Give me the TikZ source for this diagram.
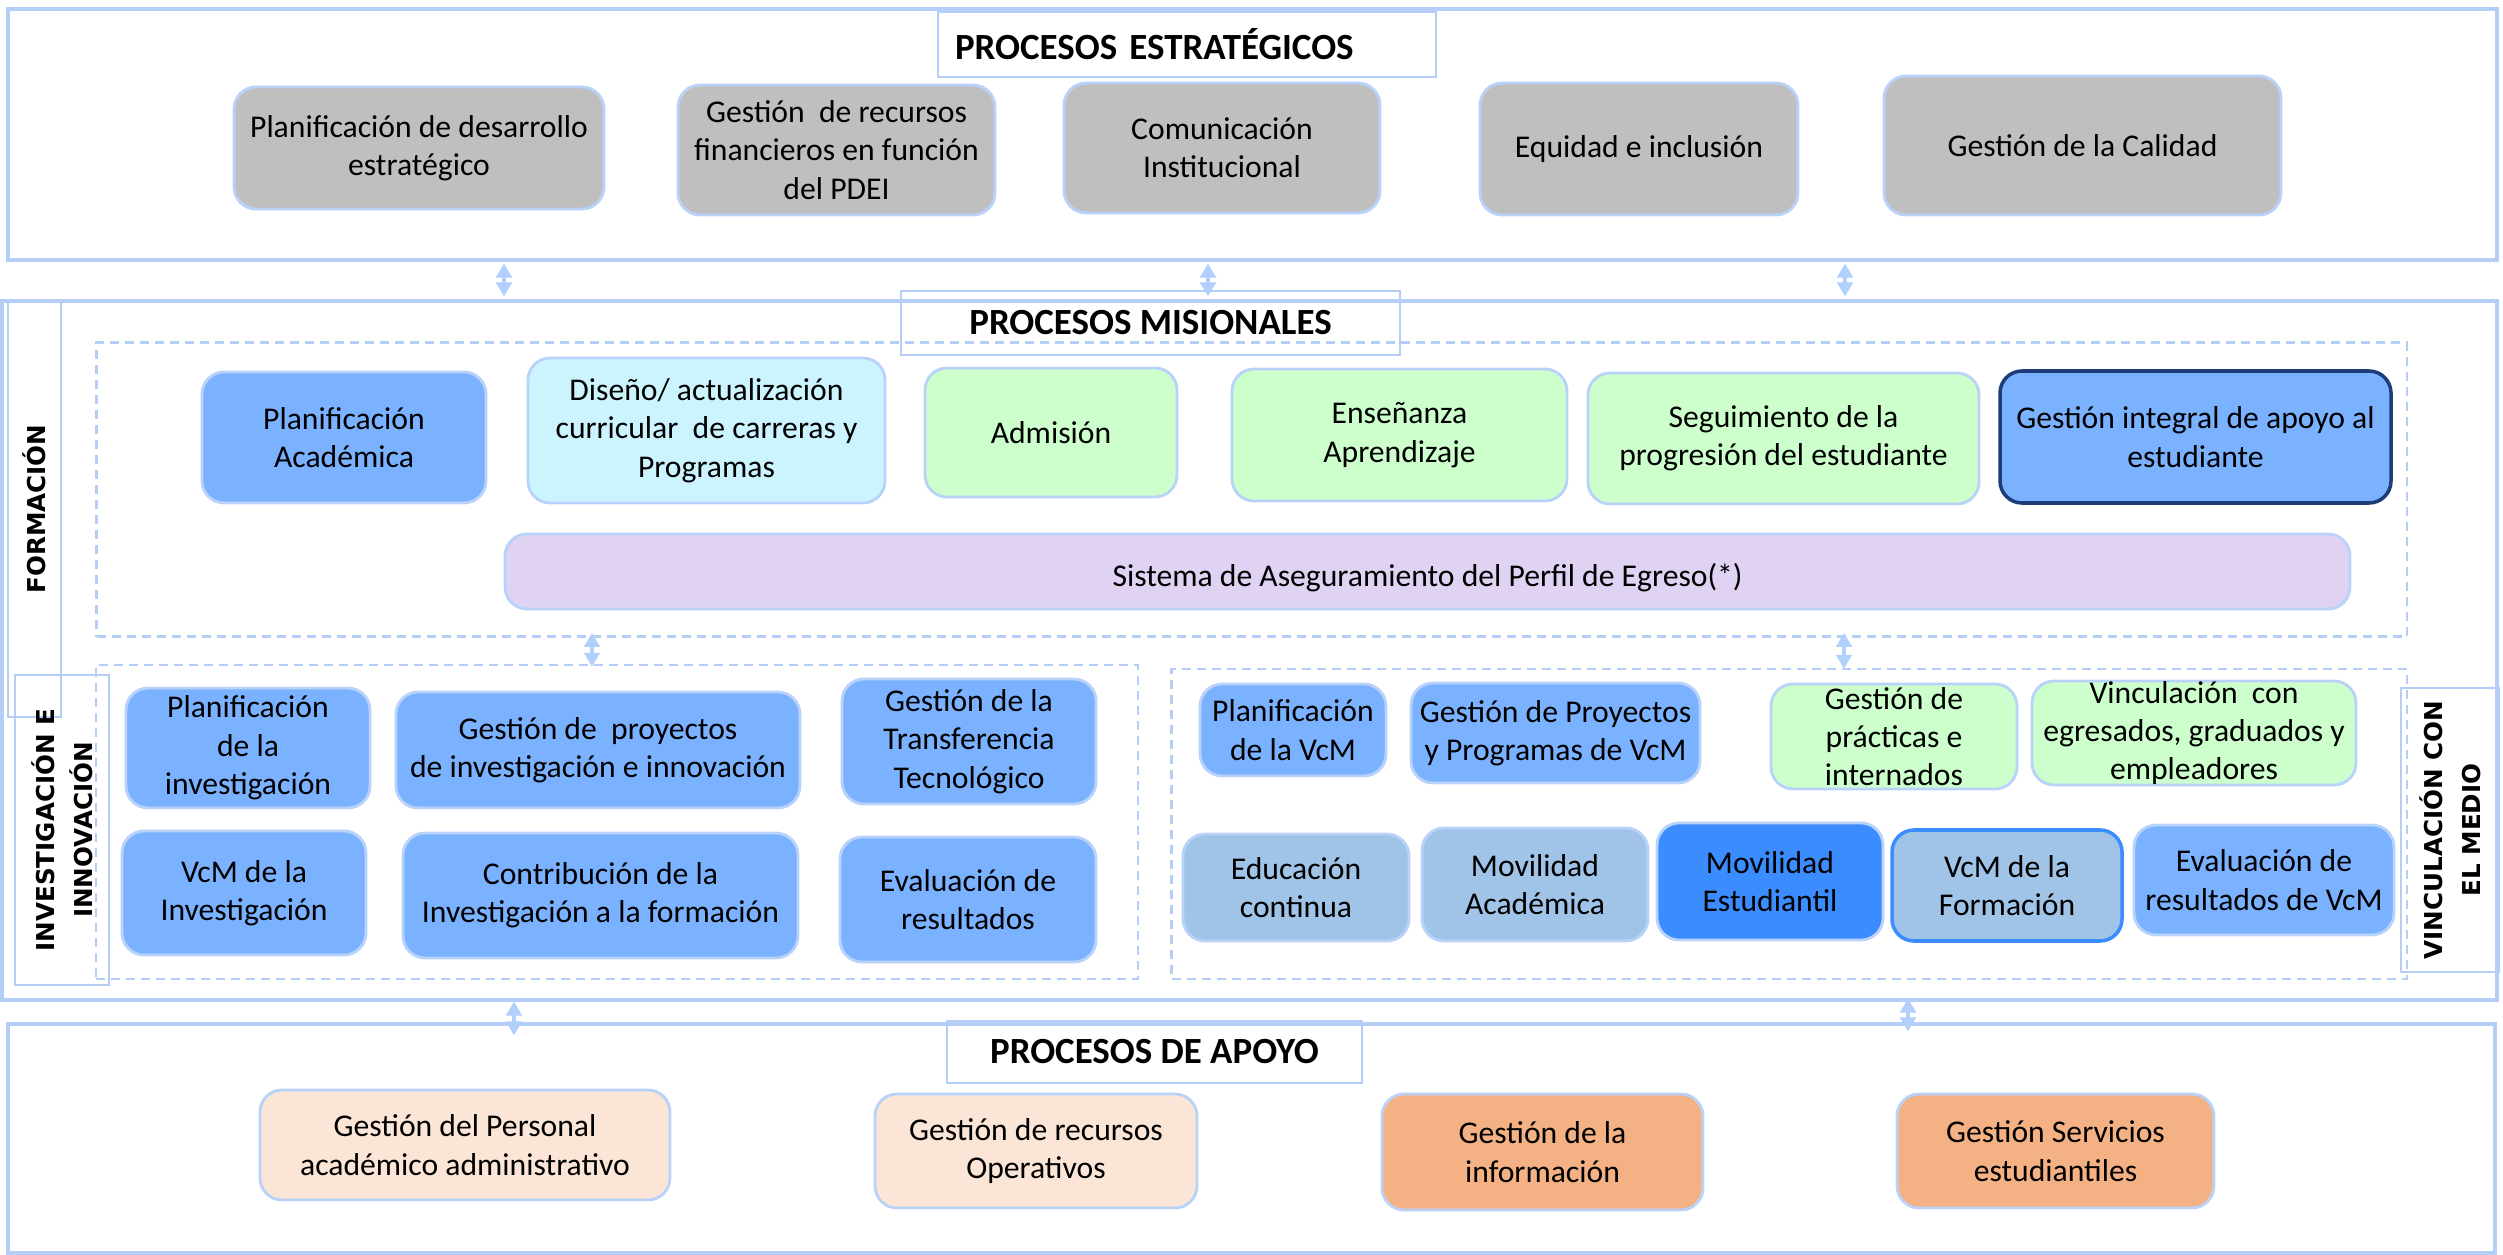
\documentclass[tikz,border=0pt]{standalone}
\usepackage{fontspec}
\setmainfont{Carlito}
\newfontfamily\sidefont{DejaVu Sans}
\usetikzlibrary{fit,arrows.meta}
\definecolor{lineblue}{RGB}{180,206,248}
\definecolor{boxline}{RGB}{185,210,250}
\definecolor{arrowblue}{RGB}{178,208,252}
\definecolor{graybox}{RGB}{191,191,191}
\definecolor{midblue}{RGB}{122,178,255}
\definecolor{cyanbox}{RGB}{204,244,255}
\definecolor{greenbox}{RGB}{204,255,204}
\definecolor{purplebox}{RGB}{224,210,242}
\definecolor{navyline}{RGB}{30,60,120}
\definecolor{steelbox}{RGB}{160,196,232}
\definecolor{brightblue}{RGB}{58,140,255}
\definecolor{peachbox}{RGB}{251,229,214}
\definecolor{orangebox}{RGB}{244,177,131}
\begin{document}
\begin{tikzpicture}[x=0.01cm,y=-0.01cm,
  every node/.style={font=\fontsize{9}{10.9}\selectfont},
  corners/.style n args={4}{at={({(#1+#3)/2},{(#2+#4)/2})}, minimum width={(#3-#1)*0.01cm}, minimum height={(#4-#2)*0.01cm}},
  outerbox/.style={draw=lineblue, line width=0.9pt, inner sep=0pt},
  dashbox/.style={draw=lineblue, line width=0.7pt, dash pattern=on 0.09cm off 0.06cm, inner sep=0pt},
  titlebox/.style={draw=lineblue, line width=0.6pt, inner sep=0pt, font=\fontsize{10.5}{12}\selectfont\bfseries},
  sidebox/.style={draw=lineblue, line width=0.6pt, inner sep=0pt, align=center, font=\sidefont\bfseries\fontsize{7}{10.9}\selectfont},
  pbox/.style={draw=boxline, line width=0.8pt, rounded corners=0.22cm, inner sep=0pt, align=center},
  graypb/.style={pbox, fill=graybox},
  bluepb/.style={pbox, fill=midblue},
  cyanpb/.style={pbox, fill=cyanbox},
  greenpb/.style={pbox, fill=greenbox},
  purplepb/.style={pbox, fill=purplebox},
  steelpb/.style={pbox, fill=steelbox},
  peachpb/.style={pbox, fill=peachbox},
  orangepb/.style={pbox, fill=orangebox},
  arr/.style={draw=arrowblue, line width=1.3pt, {Triangle[width=0.155cm,length=0.14cm]}-{Triangle[width=0.155cm,length=0.14cm]}}
]
\fill[white] (0,0) rectangle (2503,1255);
\useasboundingbox (0,0) rectangle (2503,1255);

% ---------- outer frames ----------
\node[outerbox, fit={(8,9)(2497,260)}] (strat) {};
\node[outerbox, fit={(2,301)(2497,1000)}] (mis) {};
\node[outerbox, fit={(8,1024)(2495,1253)}] (apo) {};

% ---------- titles ----------
\node[titlebox, anchor=west, minimum height=0.653cm, text width=4.64cm, inner xsep=0.17cm, align=left] (tstrat) at (937,44.5) {PROCESOS ESTRATÉGICOS};
\node[titlebox, corners={901}{291}{1400}{355}] (tmis) {PROCESOS MISIONALES};
\node[titlebox, corners={947}{1021}{1362}{1083}] (tapo) {PROCESOS DE APOYO};

% ---------- side labels ----------
\node[sidebox, rotate=90, minimum width=4.16cm, minimum height=0.53cm] (formlab) at (34.5,509) {FORMACIÓN};
\node[sidebox, rotate=90, minimum width=3.10cm, minimum height=0.94cm] (invlab) at (62,830) {INVESTIGACIÓN E\\INNOVACIÓN};
\node[sidebox, rotate=90, minimum width=2.84cm, minimum height=0.98cm] (vinlab) at (2450,830) {VINCULACIÓN CON\\EL MEDIO};

% ---------- dashed groups ----------
\node[dashbox, fit={(96.5,342.7)(2407,636.7)}] (form) {};
\node[dashbox, fit={(96,665)(1138,979)}] (inv) {};
\node[dashbox, fit={(1171.6,669)(2407,979)}] (vcm) {};

% ---------- strategic processes ----------
\node[graypb, corners={234}{87}{604}{209}] (s1) {Planificación de desarrollo\\estratégico};
\node[graypb, corners={678}{85}{995}{215}] (s2) {Gestión~ de recursos\\financieros en función\\del PDEI};
\node[graypb, corners={1064}{83}{1380}{213}] (s3) {Comunicación\\Institucional};
\node[graypb, corners={1480}{83}{1798}{215}] (s4) {Equidad e inclusión};
\node[graypb, corners={1884}{76}{2281}{215}] (s5) {Gestión de la Calidad};

% ---------- formación ----------
\node[bluepb, corners={202}{372}{486}{503}] (f1) {Planificación\\Académica};
\node[cyanpb, corners={528}{358}{885}{503}] (f2) {Diseño/ actualización\\curricular~ de carreras y\\Programas};
\node[greenpb, corners={925}{368}{1177}{497}] (f3) {Admisión};
\node[greenpb, corners={1232}{369}{1567}{501}] (f4) {Enseñanza\\Aprendizaje};
\node[greenpb, corners={1588}{373}{1979}{504}] (f5) {Seguimiento de la\\progresión del estudiante};
\node[bluepb, draw=navyline, line width=1pt, corners={2000}{371}{2391}{503}] (f6) {Gestión integral de apoyo al\\estudiante};
\node[purplepb, corners={505}{534}{2350}{609}] (f7) {\raisebox{-0.06cm}[\height][\depth]{Sistema de Aseguramiento del Perfil de Egreso(*)}};

% ---------- investigación ----------
\node[bluepb, corners={126}{688}{370}{808}] (i1) {Planificación\\de la\\investigación};
\node[bluepb, corners={396}{692}{800}{808}] (i2) {Gestión de~ proyectos\\de investigación e innovación};
\node[bluepb, corners={842}{679}{1096}{804}] (i3) {Gestión de la\\Transferencia\\Tecnológico};
\node[bluepb, corners={122}{831}{366}{955}] (i4) {VcM de la\\Investigación};
\node[bluepb, corners={403}{833}{798}{958}] (i5) {Contribución de la\\Investigación a la formación};
\node[bluepb, corners={840}{837}{1096}{962}] (i6) {Evaluación de\\resultados};

% ---------- vinculación ----------
\node[bluepb, corners={1200}{684}{1386}{776}] (v1) {Planificación\\de la VcM};
\node[bluepb, corners={1411}{683}{1700}{783}] (v2) {Gestión de Proyectos\\y Programas de VcM};
\node[greenpb, corners={1771}{684}{2017}{789}] (v3) {Gestión de\\prácticas e\\internados};
\node[greenpb, corners={2032}{681}{2356}{785}] (v4) {Vinculación~ con\\egresados, graduados y\\empleadores};
\node[steelpb, corners={1183}{834}{1409}{941}] (v5) {Educación\\continua};
\node[steelpb, corners={1422}{828}{1648}{941}] (v6) {Movilidad\\Académica};
\node[pbox, fill=brightblue, corners={1657}{823}{1883}{940}] (v7) {Movilidad\\Estudiantil};
\node[steelpb, draw=brightblue, line width=1pt, corners={1892}{830}{2122}{941}] (v8) {VcM de la\\Formación};
\node[bluepb, corners={2134}{825}{2394}{935}] (v9) {Evaluación de\\resultados de VcM};

% ---------- apoyo ----------
\node[peachpb, corners={260}{1090}{670}{1200}] (a1) {Gestión del Personal\\académico administrativo};
\node[peachpb, corners={875}{1094}{1197}{1208}] (a2) {Gestión de recursos\\Operativos};
\node[orangepb, corners={1382}{1094}{1703}{1210}] (a3) {Gestión de la\\información};
\node[orangepb, corners={1897}{1094}{2214}{1208}] (a4) {Gestión Servicios\\estudiantiles};

% ---------- connectors ----------
\draw[arr, shorten <=0.02cm, shorten >=0.03cm] (504,0 |- strat.south) -- (504,0 |- mis.north);
\draw[arr, shorten <=0.02cm, shorten >=0.03cm] (1208,0 |- strat.south) -- (1208,0 |- mis.north);
\draw[arr, shorten <=0.02cm, shorten >=0.03cm] (1845,0 |- strat.south) -- (1845,0 |- mis.north);
\draw[arr, shorten <=-0.05cm, shorten >=-0.03cm] (592,0 |- form.south) -- (592,0 |- inv.north);
\draw[arr, shorten <=-0.05cm, shorten >=-0.01cm] (1844,0 |- form.south) -- (1844,0 |- vcm.north);
\draw[arr, shorten <=0cm, shorten >=-0.13cm] (514,0 |- mis.south) -- (514,0 |- apo.north);
\draw[arr, shorten <=-0.03cm, shorten >=-0.09cm] (1908,0 |- mis.south) -- (1908,0 |- apo.north);
\end{tikzpicture}
\end{document}
